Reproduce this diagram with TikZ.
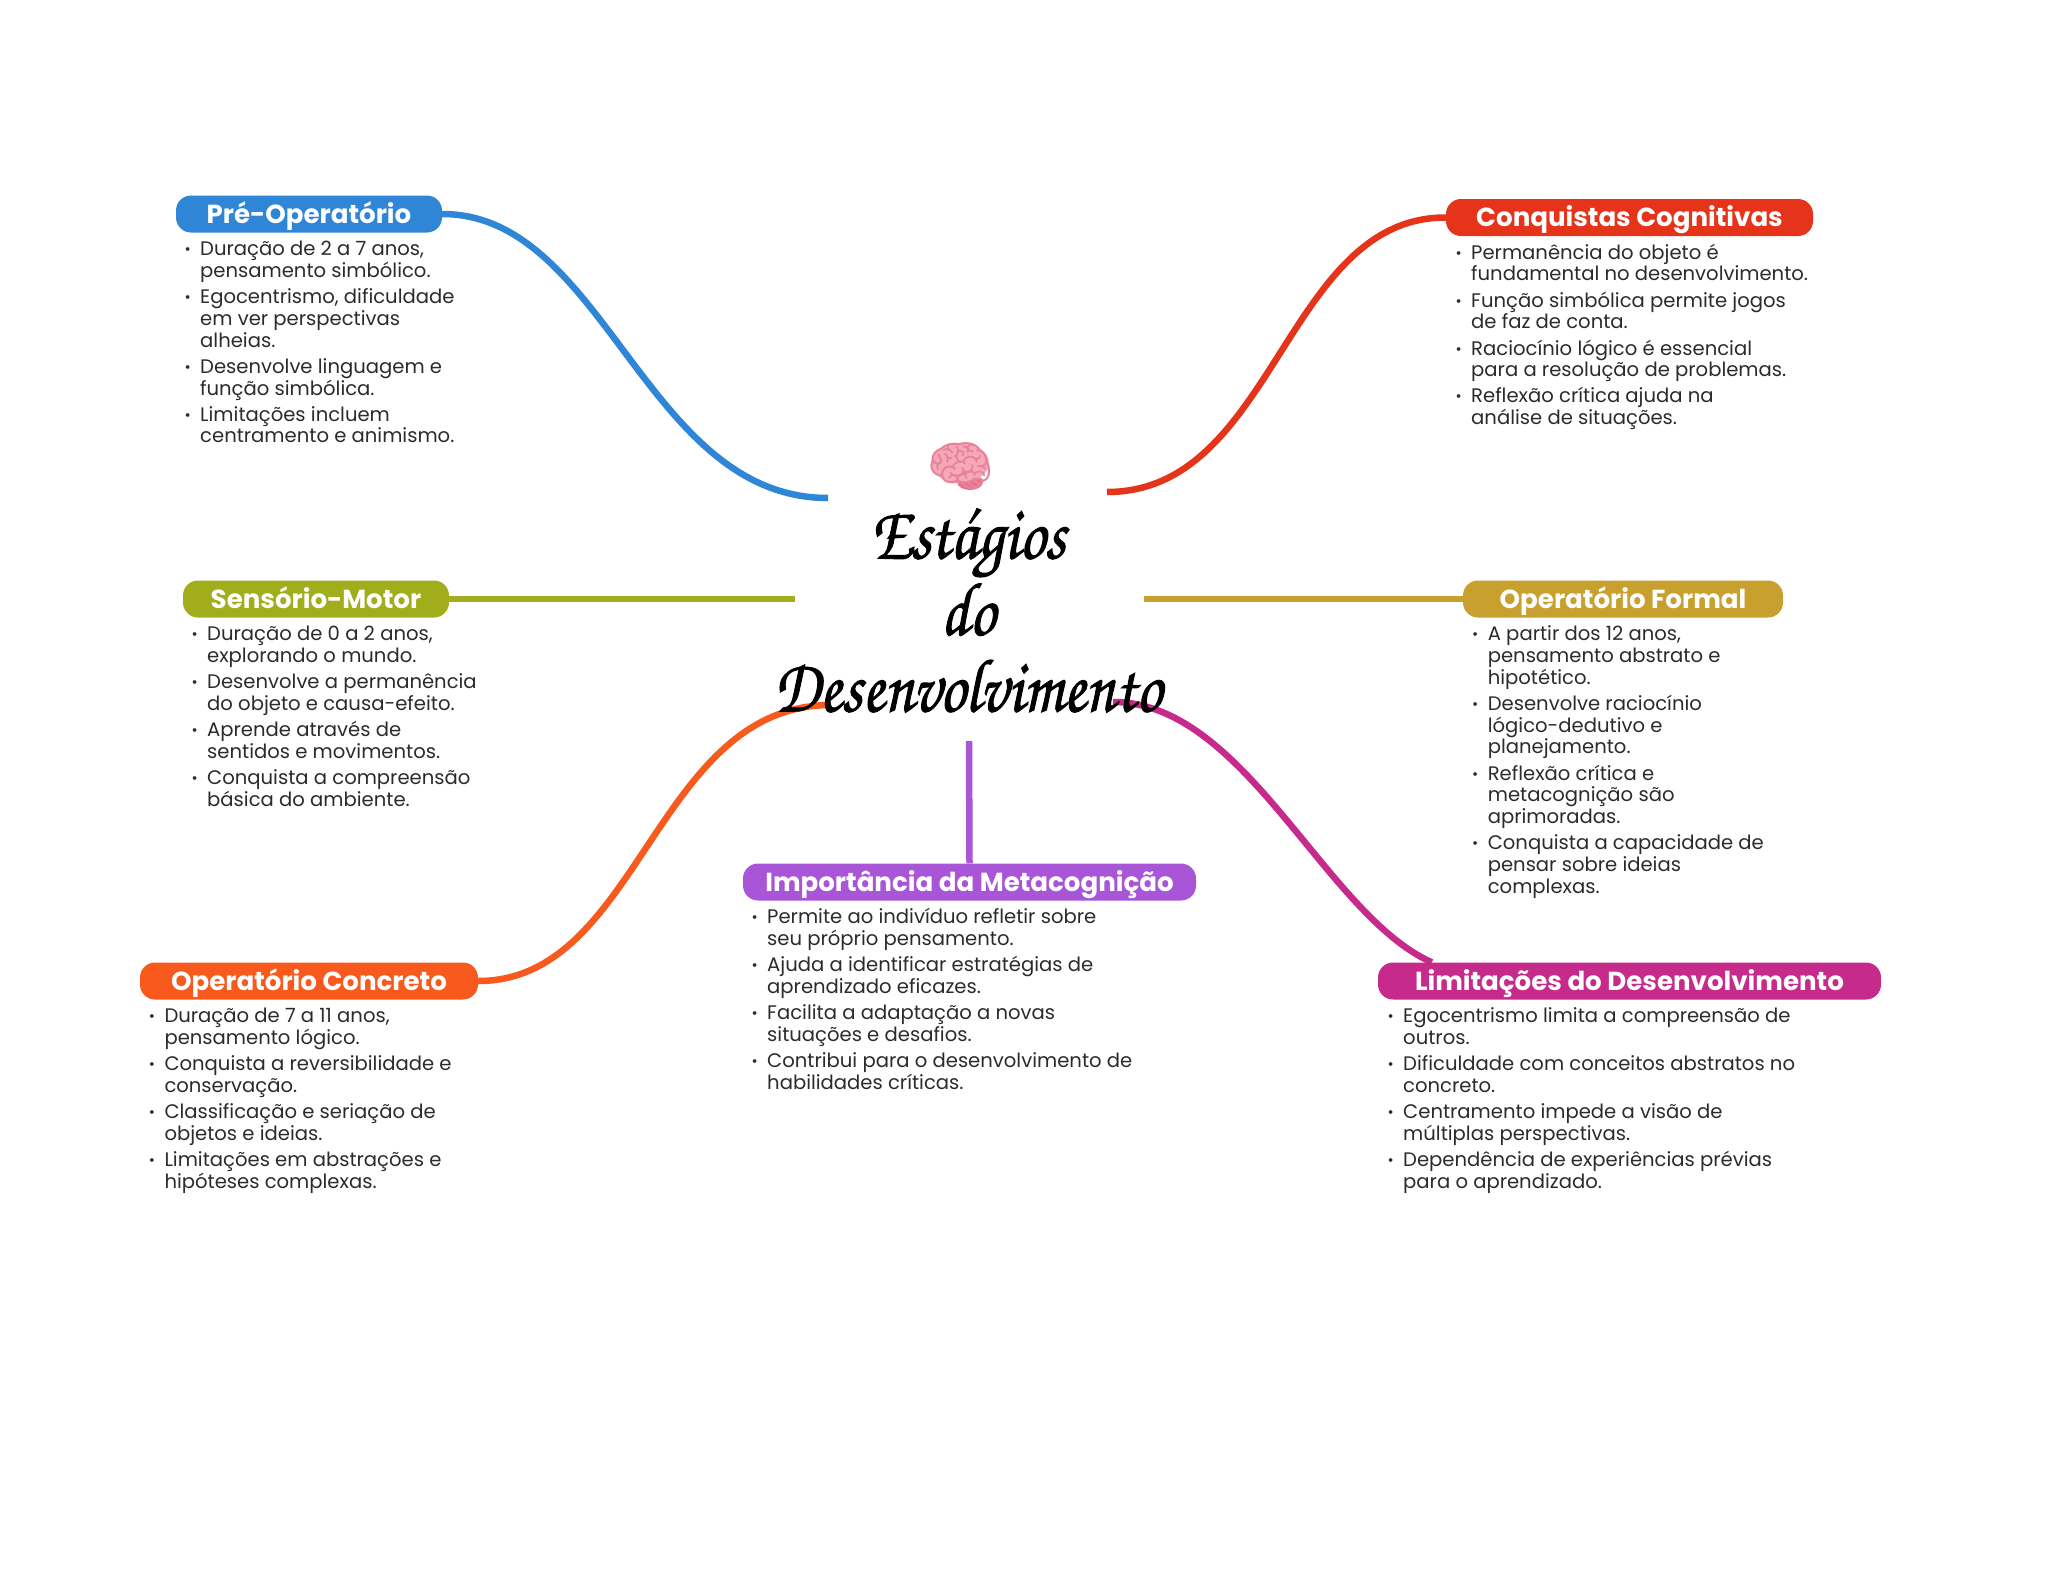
\documentclass[tikz,border=0pt]{standalone}
\usepackage{fontspec}
\setmainfont{Poppins}
\newfontfamily\emojifont{Noto Emoji}
\newfontfamily\titlefont[FakeStretch=0.85,FakeBold=1.2]{TeX Gyre Chorus}
\newcommand{\bul}{\leavevmode\rule{0pt}{16pt}\llap{\raisebox{1pt}{\fontsize{15}{15}\selectfont•}\hspace{9.5pt}}}
\newcommand{\gap}{\\[4.5pt]}
\AtBeginDocument{\lineskiplimit=-100pt\relax}
\definecolor{cblue}{HTML}{2F86D6}
\definecolor{cred}{HTML}{E5341A}
\definecolor{colive}{HTML}{A2AD1B}
\definecolor{cgold}{HTML}{C8A02E}
\definecolor{cpurple}{HTML}{A855D8}
\definecolor{corange}{HTML}{F85A1E}
\definecolor{cmag}{HTML}{C62A8A}
\definecolor{ctext}{HTML}{2B2B2B}
\definecolor{bpink}{HTML}{F5A9B8}
\definecolor{bdark}{HTML}{E8829A}
\definecolor{bcere}{HTML}{EE6F8C}
\tikzset{
 pill/.style={rounded corners=15pt,minimum height=37pt,inner sep=0pt,text=white,text height=24pt,text depth=5.4pt,font=\fontsize{26.1}{26}\selectfont\bfseries,anchor=center},
 body/.style={anchor=north west,inner sep=0pt,align=left,text=ctext,font=\fontsize{19.6}{21.7}\selectfont},
 link/.style={line width=6.5pt},
}
\begin{document}
\begin{tikzpicture}[x=1pt,y=-1pt]
\useasboundingbox (0,0) rectangle (2048,1569);
\coordinate (eblue) at (828,498);
\coordinate (ered) at (1107,492);
\coordinate (eolive) at (795,599);
\coordinate (egold) at (1144,599);
\coordinate (epur) at (969,741);
\coordinate (eora) at (831,705);
\coordinate (emag) at (1113,702);
\node[pill,fill=cblue,minimum width=266pt] (pre) at (309,214) {Pré-Operatório};
\node[pill,fill=cred,minimum width=367pt] (con) at (1629.5,217.5) {Conquistas Cognitivas};
\node[pill,fill=colive,minimum width=266pt] (sen) at (316,599) {Sensório-Motor};
\node[pill,fill=cgold,minimum width=320pt] (for) at (1623,599) {Operatório Formal};
\node[pill,fill=cpurple,minimum width=453pt] (imp) at (969.5,882) {Importância da Metacognição};
\node[pill,fill=corange,minimum width=338pt] (ocn) at (309,981) {Operatório Concreto};
\node[pill,fill=cmag,minimum width=503pt] (lim) at (1629.5,981) {Limitações do Desenvolvimento};
\coordinate (mtip) at ([xshift=54pt]lim.north west);
\draw[link,cblue] (pre.east) .. controls (605,214) and (645,498) .. (eblue);
\draw[link,cred] (con.west) .. controls (1285,217) and (1275,492) .. (ered);
\draw[link,colive] (sen.east) -- (eolive);
\draw[link,cgold] (for.west) -- (egold);
\draw[link,cpurple] (imp.north) -- (epur);
\draw[link,corange] (ocn.east) .. controls (640,981) and (655,705) .. (eora);
\draw[link,cmag] (emag) .. controls (1245,702) and (1325,915) .. (mtip);
\node[body] (tpre) at (200,239.6) {\bul Duração de 2 a 7 anos,\\pensamento simbólico.\gap
\bul Egocentrismo, dificuldade\\em ver perspectivas\\alheias.\gap
\bul Desenvolve linguagem e\\função simbólica.\gap
\bul Limitações incluem\\centramento e animismo.};
\node[body] (tcon) at (1471,243) {\bul Permanência do objeto é\\fundamental no desenvolvimento.\gap
\bul Função simbólica permite jogos\\de faz de conta.\gap
\bul Raciocínio lógico é essencial\\para a resolução de problemas.\gap
\bul Reflexão crítica ajuda na\\análise de situações.};
\node[body] (tsen) at (207,624.6) {\bul Duração de 0 a 2 anos,\\explorando o mundo.\gap
\bul Desenvolve a permanência\\do objeto e causa-efeito.\gap
\bul Aprende através de\\sentidos e movimentos.\gap
\bul Conquista a compreensão\\básica do ambiente.};
\node[body] (tfor) at (1487.6,624.6) {\bul A partir dos 12 anos,\\pensamento abstrato e\\hipotético.\gap
\bul Desenvolve raciocínio\\lógico-dedutivo e\\planejamento.\gap
\bul Reflexão crítica e\\metacognição são\\aprimoradas.\gap
\bul Conquista a capacidade de\\pensar sobre ideias\\complexas.};
\node[body] (timp) at (767,907.6) {\bul Permite ao indivíduo refletir sobre\\seu próprio pensamento.\gap
\bul Ajuda a identificar estratégias de\\aprendizado eficazes.\gap
\bul Facilita a adaptação a novas\\situações e desafios.\gap
\bul Contribui para o desenvolvimento de\\habilidades críticas.};
\node[body] (tocn) at (164.3,1006.6) {\bul Duração de 7 a 11 anos,\\pensamento lógico.\gap
\bul Conquista a reversibilidade e\\conservação.\gap
\bul Classificação e seriação de\\objetos e ideias.\gap
\bul Limitações em abstrações e\\hipóteses complexas.};
\node[body] (tlim) at (1403,1006.6) {\bul Egocentrismo limita a compreensão de\\outros.\gap
\bul Dificuldade com conceitos abstratos no\\concreto.\gap
\bul Centramento impede a visão de\\múltiplas perspectivas.\gap
\bul Dependência de experiências prévias\\para o aprendizado.};
\node[inner sep=0pt,align=center,font=\titlefont\fontsize{76}{76.5}\selectfont] (title) at (968,610.5) {Estágios\\do\\Desenvolvimento};
\fill[bcere] (970,482) ellipse[x radius=13pt,y radius=8pt];
\fill[bpink] (960,463) ellipse[x radius=29pt,y radius=20pt];
\node[inner sep=0pt,text=bdark,font=\emojifont\fontsize{54}{54}\selectfont] (brain) at (961,466) {🧠};
\end{tikzpicture}
\end{document}
